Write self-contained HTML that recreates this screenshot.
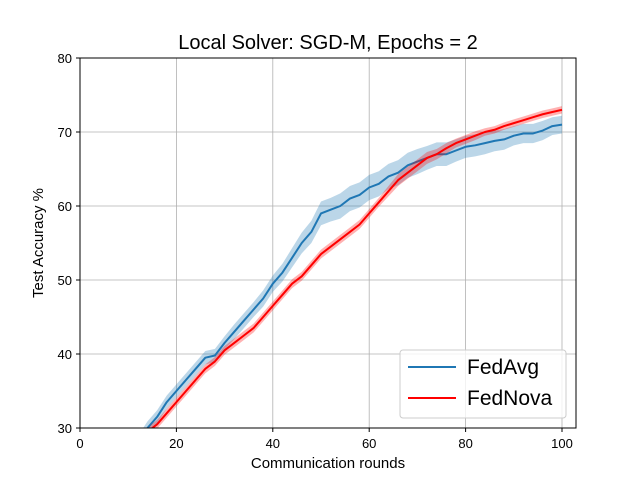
<!DOCTYPE html>
<html><head><meta charset="utf-8"><style>
body{margin:0;background:#fff;}
svg text{font-family:"Liberation Sans","DejaVu Sans",sans-serif;}
</style></head><body>
<svg width="640" height="480" xmlns="http://www.w3.org/2000/svg">
<defs><clipPath id="pc"><rect x="80" y="58" width="496" height="370"/></clipPath></defs>
<g id="grid"></g>
<g id="series" clip-path="url(#pc)"></g>
<rect x="80" y="58" width="496" height="370" fill="none" stroke="#000" stroke-width="1"/>
<g id="ticks"></g>
<text x="328" y="49" font-size="20" text-anchor="middle">Local Solver: SGD-M, Epochs = 2</text>
<text x="328" y="468" font-size="15" text-anchor="middle">Communication rounds</text>
<text x="43" y="243" font-size="15" text-anchor="middle" transform="rotate(-90 43 243)">Test Accuracy %</text>
<g>
<rect x="400" y="350" width="166" height="68" rx="3" fill="#fff" fill-opacity="0.8" stroke="#ccc"/>
<g><line x1="408" y1="367" x2="456" y2="367" stroke="#1f77b4" stroke-width="2"/><text x="467" y="374" font-size="21">FedAvg</text></g>
<g><line x1="408" y1="398" x2="456" y2="398" stroke="#ff0000" stroke-width="2"/><text x="467" y="405" font-size="21">FedNova</text></g>
</g>
</svg>
<script>
const xTicks=[0,20,40,60,80,100];
const yTicks=[30,40,50,60,70,80];
const avgRounds=[12,14,16,18,20,22,24,26,28,30,32,34,36,38,40,42,44,46,48,50,52,54,56,58,60,62,64,66,68,70,72,74,76,78,80,82,84,86,88,90,92,94,96,98,100];
const avgMean=[28,30,31.5,33.5,35,36.5,38,39.5,39.8,41.5,43,44.5,46,47.5,49.5,51,53,55,56.5,59,59.5,60,61,61.5,62.5,63,64,64.5,65.5,66,66.5,67,67,67.5,68,68.2,68.5,68.8,69,69.5,69.8,69.8,70.2,70.8,71];
const avgStd=[0.9,0.9,0.9,0.9,0.9,0.9,0.9,0.9,0.9,0.9,1,1,1,1.1,1.1,1.2,1.3,1.4,1.5,1.6,1.6,1.7,1.7,1.7,1.7,1.7,1.7,1.7,1.7,1.7,1.6,1.6,1.6,1.5,1.5,1.5,1.5,1.4,1.4,1.3,1.3,1.3,1.3,1.2,1.2];
const novaRounds=[13,15,16,18,20,22,24,26,28,30,32,34,36,38,40,42,44,46,48,50,52,54,56,58,60,62,64,66,68,70,72,74,76,78,80,82,84,86,88,90,92,94,96,98,100];
const novaMean=[28.5,30,30.5,32,33.5,35,36.5,38,39,40.5,41.5,42.5,43.5,45,46.5,48,49.5,50.5,52,53.5,54.5,55.5,56.5,57.5,59,60.5,62,63.5,64.5,65.5,66.5,67,67.8,68.5,69,69.5,70,70.3,70.8,71.2,71.6,72,72.4,72.7,73];
const novaStd=[0.6,0.6,0.6,0.6,0.6,0.6,0.6,0.6,0.6,0.6,0.6,0.6,0.6,0.6,0.6,0.6,0.6,0.6,0.6,0.6,0.6,0.6,0.6,0.6,0.6,0.6,0.7,0.8,0.8,0.8,0.8,0.7,0.7,0.6,0.6,0.6,0.5,0.5,0.5,0.5,0.5,0.5,0.5,0.5,0.5];
const X=v=>80+v*4.82, Y=v=>428-(v-30)*7.4;
const NS="http://www.w3.org/2000/svg";
function mk(t,a,p){const e=document.createElementNS(NS,t);for(const k in a)e.setAttribute(k,a[k]);p.appendChild(e);return e;}
const grid=document.getElementById('grid'),ticks=document.getElementById('ticks'),series=document.getElementById('series');
xTicks.forEach(t=>{
 const g=mk('line',{x1:X(t),x2:X(t),y1:58,y2:428,stroke:'#b0b0b0','stroke-width':0.8},grid);
 
 
 mk('line',{x1:X(t),x2:X(t),y1:428,y2:432,stroke:'#000'},ticks);
 const tx=mk('text',{x:X(t),y:448,'font-size':13,'text-anchor':'middle'},ticks);tx.textContent=t;
 
 
});
yTicks.forEach(t=>{
 const g=mk('line',{x1:80,x2:576,y1:Y(t),y2:Y(t),stroke:'#b0b0b0','stroke-width':0.8},grid);
 
 
 mk('line',{x1:76,x2:80,y1:Y(t),y2:Y(t),stroke:'#000'},ticks);
 const tx=mk('text',{x:72,y:Y(t)+5,'font-size':13,'text-anchor':'end'},ticks);tx.textContent=t;
 
 
});
function draw(rs,m,s,col,name){
 let up=rs.map((r,i)=>X(r)+','+Y(m[i]+s[i])).join(' ');
 let dn=rs.map((r,i)=>X(r)+','+Y(m[i]-s[i])).reverse().join(' ');
 const b=mk('polygon',{points:up+' '+dn,fill:col,'fill-opacity':0.3,stroke:'none'},series);
 
 
 const l=mk('polyline',{points:rs.map((r,i)=>X(r)+','+Y(m[i])).join(' '),fill:'none',stroke:col,'stroke-width':2,'stroke-linejoin':'round'},series);
 
 
}
draw(avgRounds,avgMean,avgStd,'#1f77b4','fedavg');
draw(novaRounds,novaMean,novaStd,'#ff0000','fednova');
</script>
</body></html>
